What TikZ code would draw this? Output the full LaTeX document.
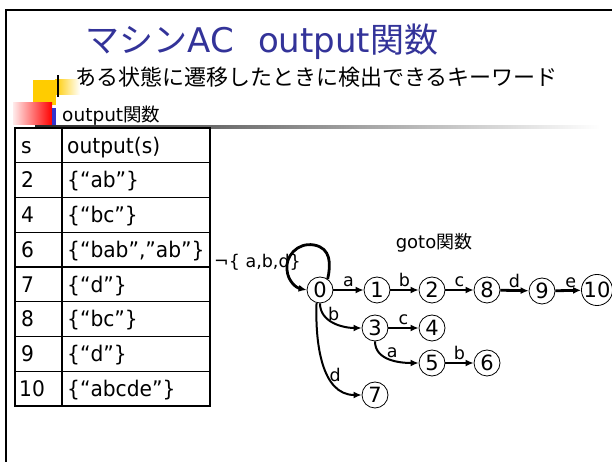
\documentclass[tikz,border=0pt]{standalone}
\usepackage{fontspec}
\setmainfont{DejaVu Sans}
\newfontfamily\jp{Noto Sans CJK JP}
\newfontfamily\tabfont{DejaVu Sans}[FakeStretch=0.94]
\usetikzlibrary{arrows.meta}
\definecolor{titleblue}{HTML}{333399}
\definecolor{ycol}{HTML}{FFCC00}
\definecolor{bbar}{HTML}{3333CC}
\begin{document}
\begin{tikzpicture}[x=1pt,y=1pt,
  st/.style={circle,draw,line width=0.8pt,minimum size=26pt,inner sep=0pt,font=\fontsize{21}{21}\selectfont},
  tr/.style={-{Latex[length=8pt,width=7pt]},line width=2.8pt},
  cv/.style={-{Latex[length=8pt,width=7pt]},line width=2pt},
  lab/.style={font=\fontsize{17.5}{17.5}\selectfont,inner sep=1.5pt},
  cell/.style={anchor=west,font=\tabfont\fontsize{21.5}{22}\selectfont,inner sep=0pt,text height=15.6pt,text depth=0pt}]
\useasboundingbox (0,0) rectangle (612,462);
\fill[white] (0,0) rectangle (612,462);
% frame
\draw[line width=2.5pt,line join=miter] (6,0) -- (6,452) -- (612,452);
% title
\node[text=titleblue,font=\fontsize{34}{34}\selectfont,inner sep=0pt] (title) at (262,420) {{\jp マシン}AC\hspace{0.7em}output{\jp 関数}};
\node[font=\fontsize{22}{22}\selectfont\jp,inner sep=0pt] (sub) at (316,385) {ある状態に遷移したときに検出できるキーワード};
% decoration
\shade[left color=black!85,right color=white] (35,333.5) rectangle (600,336.5);
\fill[ycol] (33,357) rectangle (55,382);
\shade[left color=ycol,right color=white] (55,357) rectangle (80,382);
\fill[white] (56,336.5) rectangle (167,367);
\draw[line width=2.5pt] (58,365) -- (58,387);
\shade[left color=red!8,right color=red] (13,337) rectangle (52,359);
\fill[bbar] (52,337) rectangle (56,354);
\node[anchor=west,font=\fontsize{18.5}{18.5}\selectfont,inner sep=0pt] (otitle) at (62,346) {output{\jp 関数}};
% table
\draw[line width=1.2pt] (62,56) -- (62,334);
\foreach \k in {1,...,7} \draw[line width=1.2pt] (15,{334-34.75*\k}) -- (210,{334-34.75*\k});
\draw[line width=2pt] (15,56) rectangle (210,334);
\node[cell] (s0) at (21,316.6) {s};      \node[cell] (o0) at (67,316.6) {output(s)};
\node[cell] (s1) at (21,281.9) {2};      \node[cell] (o1) at (67,281.9) {\{“ab”\}};
\node[cell] (s2) at (21,247.1) {4};      \node[cell] (o2) at (67,247.1) {\{“bc”\}};
\node[cell] (s3) at (21,212.4) {6};      \node[cell] (o3) at (67,212.4) {\{“bab”,”ab”\}};
\node[cell] (s4) at (21,177.6) {7};      \node[cell] (o4) at (67,177.6) {\{“d”\}};
\node[cell] (s5) at (21,142.9) {8};      \node[cell] (o5) at (67,142.9) {\{“bc”\}};
\node[cell] (s6) at (21,108.1) {9};      \node[cell] (o6) at (67,108.1) {\{“d”\}};
\node[cell] (s7) at (19,73.4) {10};      \node[cell] (o7) at (67,73.4) {\{“abcde”\}};
% graph
\node[font=\fontsize{18}{18}\selectfont,inner sep=0pt] (goto) at (434,219) {goto{\jp 関数}};
\node[lab,anchor=west,inner sep=0pt] (loopl) at (214,200) {¬\{ a,b,d\}};
\node[st] (n0) at (320,172) {0};
\node[st] (n1) at (377,172) {1};
\node[st] (n2) at (432,172) {2};
\node[st] (n8) at (487,172) {8};
\node[st] (n9) at (542,171) {9};
\node[st] (n10) at (597,172) {10};
\node[st] (n3) at (375,134) {3};
\node[st] (n4) at (432,134) {4};
\node[st] (n5) at (432,99) {5};
\node[st] (n6) at (487,99) {6};
\node[st] (n7) at (375,67) {7};
\draw[tr] (n0) -- node[lab,above] {a} (n1);
\draw[tr] (n1) -- node[lab,above] {b} (n2);
\draw[tr] (n2) -- node[lab,above] {c} (n8);
\draw[tr] (n8) -- node[lab,above] {d} (n9);
\draw[tr] (n9) -- node[lab,above,pos=0.6] {e} (n10);
\draw[tr] (n3) -- node[lab,above] {c} (n4);
\draw[tr] (n5) -- node[lab,above] {b} (n6);
\draw[cv] (n0.south) to[out=-90,in=180] node[lab,pos=0.5,above] {b} (n3.west);
\draw[cv] (n3.south) to[out=-90,in=180] node[lab,pos=0.55,above] {a} (n5.west);
\draw[cv] (n0.-105) to[out=-92,in=180] node[lab,pos=0.72,above] {d} (n7.west);
\draw[tr] (n0.55) .. controls (331,198) and (331,214) .. (314,217) .. controls (297,220) and (285,205) .. (287,192) .. controls (288,180) and (297,174) .. (n0.west);
\end{tikzpicture}
\end{document}
